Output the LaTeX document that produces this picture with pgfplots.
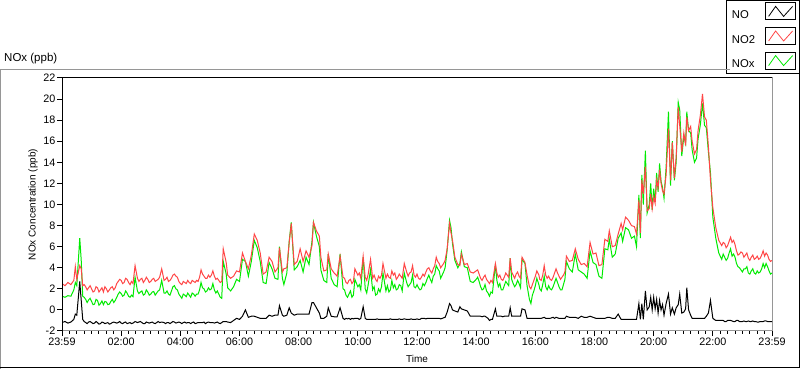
\documentclass[border=0pt]{standalone}
\usepackage{pgfplots}
\pgfplotsset{compat=1.18}
\usepackage{pgfplotstable}
\usepackage{fontspec}
\setmainfont{Liberation Sans}
\definecolor{noxred}{RGB}{255,70,70}
\definecolor{noxgreen}{RGB}{0,235,0}
\definecolor{framegray}{RGB}{150,150,150}

\pgfplotstableread{
t no no2 nox
0.0 -1.2 2.5 1.3
0.1 -1.1 2.3 1.2
0.2 -1.25 2.6 1.35
0.3 -1.15 2.4 1.3
0.4 -0.9 2.8 1.9
0.45 -0.4 4.1 2.6
0.5 -0.5 2.9 2.3
0.6 2.7 4.2 6.8
0.65 0.9 3.9 4.7
0.7 -0.9 2.3 1.3
0.75 -1.1 2.4 1.2
0.8 -1.2 2.2 1.0
0.85 -1.3 1.9 0.7
0.9 -1.15 2.1 0.95
0.95 -1.1 2.3 1.1
1.0 -1.2 2.0 0.8
1.05 -1.3 1.7 0.5
1.1 -1.25 1.8 0.55
1.15 -1.1 2.2 1.0
1.2 -1.2 2.1 0.9
1.25 -1.35 1.7 0.45
1.3 -1.3 1.9 0.6
1.35 -1.15 2.1 0.85
1.4 -1.2 1.7 0.5
1.45 -1.3 2.2 0.8
1.5 -1.25 2.0 0.75
1.55 -1.2 1.7 0.5
1.6 -1.35 1.9 0.55
1.65 -1.3 2.1 0.8
1.7 -1.2 2.2 1.0
1.75 -1.15 1.9 0.7
1.8 -1.2 2.1 0.9
1.85 -1.25 2.5 1.2
1.9 -1.2 2.7 1.5
1.95 -1.1 2.9 1.7
2.0 -1.25 2.8 1.55
2.05 -1.3 2.5 1.3
2.1 -1.2 2.6 1.4
2.15 -1.15 3.0 1.8
2.2 -1.3 2.9 1.6
2.25 -1.25 2.6 1.3
2.3 -1.2 2.4 1.2
2.35 -1.3 2.7 1.4
2.4 -1.25 2.5 1.25
2.47 -1.1 4.2 3.1
2.55 -1.2 3.0 1.8
2.6 -1.15 2.7 1.55
2.65 -1.1 2.9 1.7
2.7 -1.2 3.0 1.8
2.75 -1.3 2.6 1.4
2.8 -1.3 2.8 1.5
2.85 -1.15 3.1 1.9
2.9 -1.2 2.9 1.7
2.95 -1.25 2.6 1.4
3.0 -1.2 2.7 1.5
3.05 -1.15 2.9 1.7
3.1 -1.25 3.0 1.75
3.15 -1.3 2.7 1.4
3.2 -1.2 2.8 1.6
3.25 -1.1 2.9 1.8
3.3 -1.2 3.1 1.9
3.37 -1.15 3.9 2.8
3.45 -1.2 2.8 1.6
3.5 -1.3 2.9 1.6
3.55 -1.2 3.1 1.8
3.6 -1.2 2.7 1.5
3.65 -1.3 2.8 1.4
3.7 -1.2 3.0 1.8
3.75 -1.1 3.3 2.2
3.8 -1.15 3.4 2.3
3.85 -1.25 3.2 2.0
3.9 -1.2 3.1 1.9
3.95 -1.15 2.7 1.5
4.0 -1.2 2.5 1.3
4.05 -1.3 2.4 1.1
4.1 -1.2 2.7 1.5
4.15 -1.15 2.6 1.4
4.2 -1.25 2.5 1.25
4.25 -1.2 2.8 1.6
4.3 -1.2 2.6 1.4
4.35 -1.3 2.5 1.2
4.4 -1.2 2.8 1.6
4.45 -1.15 2.7 1.5
4.5 -1.3 2.6 1.3
4.55 -1.25 2.8 1.5
4.6 -1.2 2.7 1.5
4.65 -1.2 3.1 1.9
4.7 -1.2 3.8 2.6
4.75 -1.2 3.4 2.1
4.8 -1.15 3.2 2.0
4.85 -1.3 3.0 1.7
4.9 -1.2 3.0 1.8
4.95 -1.15 3.3 2.1
5.0 -1.2 3.1 1.9
5.05 -1.2 3.3 2.0
5.1 -1.2 3.7 2.5
5.15 -1.25 3.2 1.9
5.2 -1.2 2.9 1.6
5.25 -1.15 3.0 1.8
5.3 -1.25 2.8 1.5
5.35 -1.3 2.6 1.2
5.4 -1.2 2.7 1.1
5.45 -1.1 5.8 4.6
5.55 -1.1 4.5 3.4
5.6 -1.15 3.3 2.1
5.7 -1.2 3.0 1.8
5.8 -1.0 3.2 2.2
5.9 -0.8 3.7 2.9
6.0 -0.9 3.6 2.7
6.1 -0.6 5.4 4.8
6.2 0.0 4.6 4.6
6.3 -0.7 3.9 3.2
6.4 -0.6 5.2 4.6
6.5 -0.6 7.2 6.6
6.6 -0.7 6.6 5.9
6.7 -0.8 5.4 4.6
6.8 -0.8 3.4 2.6
6.9 -0.8 3.6 2.5
7.0 -0.5 5.0 4.5
7.1 -0.6 4.6 3.9
7.2 -0.5 3.6 3.0
7.3 -0.5 4.0 2.9
7.35 0.4 5.9 6.0
7.45 -0.5 3.6 3.0
7.5 -0.6 3.9 2.4
7.6 -0.5 4.0 3.5
7.68 0.2 6.4 6.5
7.75 -0.3 8.2 8.3
7.85 -0.5 4.3 3.8
7.95 -0.4 4.6 4.1
8.05 -0.4 5.8 4.7
8.15 -0.4 4.6 3.6
8.25 -0.4 5.6 5.0
8.35 -0.4 5.0 4.3
8.45 0.7 6.1 6.5
8.5 0.7 8.3 8.3
8.6 0.2 7.5 7.0
8.7 -0.3 7.0 6.0
8.75 -0.8 5.0 3.8
8.85 -0.8 3.7 2.8
8.95 -0.6 3.8 2.6
9.0 0.2 5.3 5.3
9.1 -0.6 3.9 3.0
9.2 -0.65 3.5 2.4
9.3 -0.65 3.2 2.2
9.4 0.2 5.1 5.3
9.5 -0.8 3.1 2.0
9.55 -0.9 3.0 1.9
9.6 -0.8 2.6 1.4
9.65 -0.85 2.5 1.2
9.7 -0.8 2.8 1.5
9.75 -0.9 2.9 1.8
9.8 -0.8 2.5 1.2
9.85 -0.85 2.7 1.4
9.9 -0.8 3.9 2.9
10.0 -0.8 3.3 2.2
10.05 -0.9 3.5 2.4
10.1 -0.8 3.0 1.9
10.18 0.3 5.1 5.0
10.25 -0.8 3.1 2.0
10.3 -0.9 2.8 1.6
10.35 -0.9 3.4 2.4
10.43 -0.9 4.8 3.8
10.5 -0.9 3.0 1.9
10.55 -0.9 3.3 2.2
10.6 -0.9 2.9 1.4
10.65 -0.85 2.7 1.5
10.7 -0.9 3.2 2.0
10.75 -0.9 3.0 1.7
10.8 -0.9 3.3 2.2
10.85 -0.9 4.4 3.5
10.95 -0.9 3.0 1.8
11.0 -0.9 3.4 2.3
11.05 -0.9 3.1 1.7
11.1 -0.85 3.0 1.9
11.15 -0.9 3.7 2.8
11.2 -0.9 3.3 2.1
11.25 -0.9 3.5 2.4
11.3 -0.9 2.9 1.9
11.35 -0.9 3.1 2.0
11.4 -0.85 3.4 2.4
11.45 -0.9 3.2 2.3
11.5 -0.9 3.0 1.8
11.57 -0.85 4.4 3.5
11.65 -0.9 3.6 2.6
11.7 -0.9 3.2 2.2
11.75 -0.9 3.5 2.4
11.8 -0.85 3.6 2.6
11.85 -0.9 4.2 3.3
11.9 -0.9 3.3 2.2
11.95 -0.9 3.1 2.1
12.0 -0.85 3.4 2.4
12.05 -0.9 3.0 2.1
12.1 -0.9 2.9 1.9
12.15 -0.8 3.1 2.0
12.2 -0.8 3.4 2.5
12.25 -0.8 3.2 2.3
12.3 -0.85 3.6 2.6
12.35 -0.8 3.9 3.0
12.4 -0.8 4.0 3.3
12.45 -0.8 3.7 2.9
12.5 -0.8 3.5 2.6
12.55 -0.8 3.9 3.2
12.6 -0.8 4.2 3.4
12.65 -0.8 5.0 4.2
12.7 -0.8 4.6 3.9
12.75 -0.8 4.4 3.7
12.8 -0.85 4.0 3.0
12.85 -0.8 4.2 3.3
12.9 -0.75 4.4 3.6
12.95 -0.7 4.7 4.0
13.02 -0.2 5.8 5.7
13.1 0.6 8.2 8.5
13.15 0.4 7.3 7.8
13.2 0.0 6.6 6.3
13.28 -0.1 5.0 4.7
13.38 -0.2 4.3 4.0
13.45 0.3 4.2 4.4
13.5 0.1 5.3 5.5
13.6 0.0 4.3 4.1
13.7 -0.1 4.4 4.0
13.8 -0.6 3.6 2.7
13.9 -0.6 3.5 2.6
14.0 -0.6 3.7 2.9
14.05 -0.6 3.8 3.1
14.1 -0.6 3.4 2.7
14.15 -0.6 3.0 2.2
14.2 -0.65 2.8 1.9
14.25 -0.6 3.1 2.0
14.3 -0.6 3.3 2.4
14.35 -0.7 2.9 1.8
14.4 -0.8 2.7 1.6
14.45 -1.0 2.5 1.3
14.5 -0.9 2.8 1.7
14.55 -0.9 2.6 1.6
14.65 0.1 4.4 4.3
14.7 -0.6 3.5 2.8
14.75 -0.6 3.1 2.2
14.8 -0.6 3.3 2.5
14.85 -0.6 2.9 1.9
14.9 -0.65 2.8 1.9
14.95 -0.6 3.1 2.3
15.0 -0.6 3.5 2.7
15.05 -0.6 3.3 2.5
15.1 -0.6 3.1 2.3
15.15 0.2 4.9 4.9
15.2 -0.6 3.6 2.9
15.25 -0.6 3.3 2.5
15.3 -0.6 3.0 2.2
15.35 -0.6 3.4 2.4
15.4 -0.6 3.6 2.8
15.45 -0.6 3.2 2.5
15.5 -0.6 3.0 2.1
15.55 0.1 5.0 4.8
15.65 0.0 4.5 4.4
15.72 -0.8 3.3 2.3
15.8 -0.8 2.2 1.0
15.85 -0.8 2.0 0.6
15.9 -0.8 2.4 1.4
15.95 -0.8 2.8 1.8
16.0 -0.8 3.2 2.3
16.05 -0.8 3.7 3.0
16.12 -0.8 3.3 2.4
16.15 -0.8 2.9 2.0
16.2 -0.8 2.8 1.8
16.25 -0.75 3.3 2.4
16.3 -0.7 4.2 3.2
16.35 -0.8 3.3 2.2
16.4 -0.8 3.0 1.9
16.45 -0.8 3.2 2.3
16.5 -0.8 2.9 2.0
16.55 -0.75 2.8 1.9
16.6 -0.7 3.1 2.2
16.65 -0.8 3.5 2.6
16.7 -0.7 3.9 3.0
16.75 -0.75 3.5 2.6
16.8 -0.8 3.2 2.2
16.85 -0.8 2.9 1.9
16.9 -0.8 3.1 1.9
16.95 -0.8 3.3 2.4
17.0 -0.8 3.6 2.9
17.05 -0.6 5.1 4.6
17.15 -0.7 4.6 3.9
17.25 -0.7 4.7 3.6
17.35 -0.7 5.8 5.3
17.45 -0.8 4.8 3.8
17.55 -0.6 4.3 3.6
17.65 -0.7 4.4 3.4
17.75 -0.7 4.1 3.0
17.85 -0.6 6.4 5.6
17.95 -0.7 5.3 4.5
18.05 -0.8 5.4 4.3
18.15 -0.8 4.2 3.2
18.25 -0.8 4.3 3.0
18.35 -0.8 6.7 5.8
18.45 -0.7 6.5 5.7
18.5 -0.7 7.5 6.7
18.6 -0.8 6.0 5.0
18.7 -0.8 6.1 5.3
18.8 -0.4 7.2 6.8
18.9 -0.9 8.2 7.3
18.95 -0.9 7.6 6.5
19.05 -0.9 8.8 7.8
19.15 -0.9 8.5 7.6
19.25 -0.9 8.0 6.8
19.35 -0.9 7.9 7.0
19.42 -0.9 7.2 6.0
19.5 0.6 10.4 10.9
19.55 -0.9 7.3 6.8
19.6 0.6 12.3 12.8
19.65 -0.9 11.0 10.0
19.72 1.8 13.6 15.1
19.78 0.0 9.4 9.2
19.85 0.3 9.6 10.0
19.9 1.2 11.0 12.0
19.95 0.0 9.6 9.5
20.0 1.2 10.7 11.5
20.05 0.1 10.1 10.3
20.1 1.0 12.3 13.0
20.15 -0.3 11.6 11.2
20.2 0.9 13.3 13.9
20.25 0.0 12.0 12.2
20.3 0.5 11.3 11.6
20.35 -0.5 11.0 10.6
20.42 0.6 12.8 13.5
20.5 1.5 17.2 18.8
20.57 -0.4 12.3 11.8
20.63 0.2 15.9 16.0
20.7 -0.4 12.5 12.3
20.76 0.2 14.5 14.0
20.83 0.5 19.2 19.7
20.88 1.5 17.5 19.0
20.95 -0.3 15.0 14.6
21.02 -0.2 16.8 16.5
21.08 0.1 15.6 15.8
21.12 2.1 18.3 18.8
21.18 0.0 17.0 17.0
21.25 -0.5 17.4 16.8
21.3 -0.8 16.0 15.2
21.38 -0.8 14.8 14.0
21.45 -0.8 15.2 14.4
21.5 -0.8 17.0 16.2
21.58 -0.8 18.5 17.6
21.65 -0.8 20.5 19.6
21.72 -0.8 18.3 17.5
21.78 -0.6 18.0 17.3
21.85 -0.3 15.5 15.0
21.92 0.9 12.3 13.0
22.0 -0.8 9.7 8.8
22.1 -1.0 7.8 6.8
22.2 -1.0 6.6 5.4
22.3 -1.0 6.1 4.8
22.35 -1.0 6.4 5.3
22.4 -1.1 6.3 5.0
22.45 -1.1 5.9 4.7
22.5 -1.0 6.1 4.9
22.55 -1.0 6.5 5.4
22.6 -1.0 6.9 5.8
22.65 -1.05 6.4 5.1
22.7 -1.1 6.6 5.3
22.75 -1.1 6.2 5.0
22.8 -1.0 5.6 4.4
22.85 -1.0 5.2 4.1
22.9 -1.1 5.3 4.0
22.95 -1.1 5.5 3.8
23.0 -1.1 5.4 3.6
23.05 -1.05 5.0 3.9
23.1 -1.1 5.2 3.9
23.15 -1.1 5.4 4.1
23.2 -1.05 4.9 3.5
23.25 -1.1 4.7 3.4
23.3 -1.1 5.0 3.7
23.35 -1.05 5.2 3.9
23.4 -1.1 4.8 3.5
23.45 -1.1 4.9 3.4
23.5 -1.15 5.1 3.7
23.55 -1.15 4.8 3.5
23.6 -1.1 4.9 3.6
23.65 -1.1 5.2 3.9
23.7 -1.1 5.6 4.4
23.75 -1.05 5.1 4.0
23.8 -1.05 5.4 4.4
23.85 -1.1 5.2 4.1
23.9 -1.1 4.8 3.7
23.95 -1.1 4.6 3.4
24.0 -1.1 4.7 3.5
}\noxdata

\begin{document}
\begin{tikzpicture}[x=1pt,y=1pt]
\useasboundingbox (0,0) rectangle (800,369);
\fill[white] (0,0) rectangle (800,369);
\begin{axis}[
  at={(62pt,38pt)}, anchor=south west,
  scale only axis, width=710pt, height=253pt,
  xmin=0, xmax=24, ymin=-2, ymax=22,
  xtick={0,2,...,24},
  xticklabels={23:59,02:00,04:00,06:00,08:00,10:00,12:00,14:00,16:00,18:00,20:00,22:00,23:59},
  minor x tick num=7,
  ytick={-2,0,...,22},
  yticklabels={-2,0,2,4,6,8,10,12,14,16,18,20,22},
  tick align=outside, tick pos=left,
  major tick length=5pt, minor tick length=3pt,
  tick style={black, line width=1pt},
  axis line style={framegray, line width=1pt},
  ticklabel style={font=\fontsize{10.8}{12}\selectfont, inner sep=1.5pt},
  xlabel={Time}, ylabel={NOx Concentration (ppb)},
  label style={font=\fontsize{11.5}{13}\selectfont},
  every axis x label/.style={at={(axis description cs:0.5,-0.1107)}, anchor=center},
  every axis y label/.style={at={(axis description cs:-0.0408,0.5)}, rotate=90, anchor=center},
  clip=true,
  legend plot pos=right,
  legend cell align=left,
  legend style={at={(axis description cs:1,1)}, anchor=north east, xshift=27.5pt, yshift=78pt,
    draw=black, line width=1pt, fill=white, font=\fontsize{11.3}{13}\selectfont,
    inner xsep=3pt, inner ysep=2pt, row sep=5pt, column sep=8pt},
  legend image code/.code={
    \draw[black, line width=0.8pt, fill=white] (0pt,-4.5pt) rectangle (30pt,12.5pt);
    \draw[line width=0.8pt] (3pt,-1pt) -- (10pt,9pt) -- (18pt,-1pt) -- (27pt,9pt);
  },
  after end axis/.code={
    \draw[black, line width=1pt] (rel axis cs:0,0) -- (rel axis cs:0,1) -- (rel axis cs:1,1);
  },
]
\addlegendimage{black}
\addlegendentry{NO}
\addlegendimage{noxred}
\addlegendentry{NO2}
\addlegendimage{noxgreen}
\addlegendentry{NOx}
\addplot[noxgreen, line width=1pt, forget plot] table[x=t, y=nox] {\noxdata};
\addplot[noxred, line width=1pt, forget plot] table[x=t, y=no2] {\noxdata};
\addplot[black, line width=1pt, forget plot] table[x=t, y=no] {\noxdata};
\end{axis}
\draw[framegray, line width=1pt] (0.5,0) -- (0.5,299.5) -- (730,299.5);
\draw[black, line width=1pt] (0,1) -- (799.5,1) -- (799.5,297);
\node[anchor=base west, font=\fontsize{11.5}{13}\selectfont, inner sep=0pt] at (4,307) {NOx (ppb)};
\end{tikzpicture}
\end{document}
